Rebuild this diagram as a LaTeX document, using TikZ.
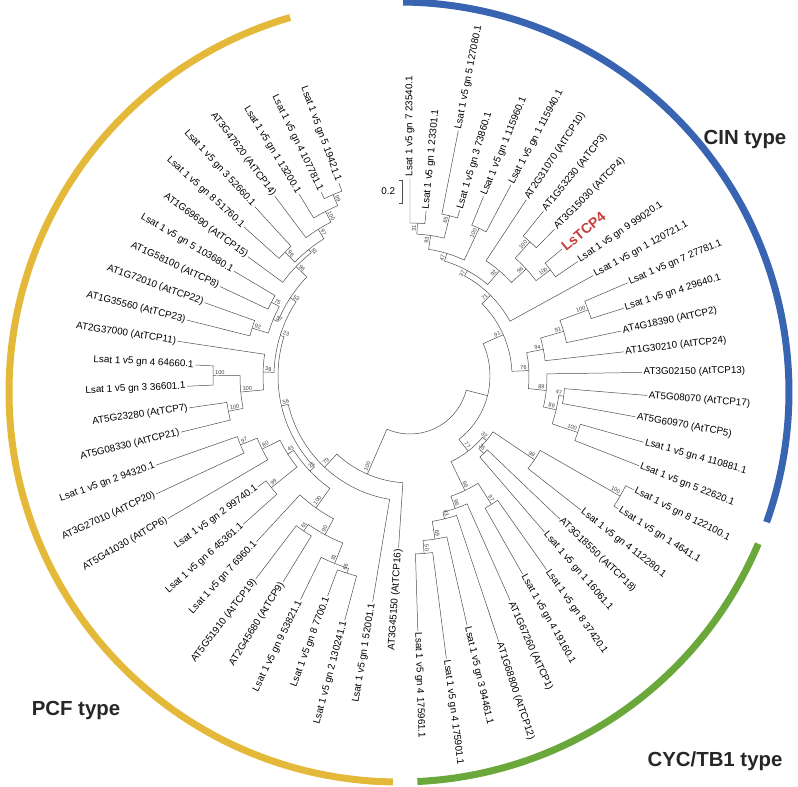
\documentclass[tikz,border=0pt]{standalone}
\usepackage{fontspec}
\setmainfont{Liberation Sans}
\usetikzlibrary{calc}
\definecolor{pcfyellow}{RGB}{228,184,56}
\definecolor{cinblue}{RGB}{56,100,178}
\definecolor{cycgreen}{RGB}{106,168,60}
\definecolor{lsred}{RGB}{198,62,58}

% leaf: [style]{name}{index}{tip radius}{text}
\newcommand\leafat[5][]{%
  \pgfmathsetmacro\la{90-(#3-1)*5.57}%
  \expandafter\xdef\csname lfA#2\endcsname{\la}%
  \coordinate (#2) at (\la:#4);%
  \pgfmathsetmacro\lc{cos(\la)}%
  \ifdim\lc pt<-0.001pt
    \pgfmathsetmacro\lr{\la+180}%
    \node[leaf, #1, anchor=east, rotate=\lr] (#2t) at (#2) {#5};%
  \else
    \node[leaf, #1, anchor=west, rotate=\la] (#2t) at (#2) {#5};%
  \fi}

% clade: {name}{radius}{child 1}{child 2}{bootstrap}
\newcommand\clade[5]{%
  \pgfmathsetmacro\ca{\csname lfA#3\endcsname}%
  \pgfmathsetmacro\cb{\csname lfA#4\endcsname}%
  \pgfmathsetmacro\cm{(\ca+\cb)/2}%
  \expandafter\xdef\csname lfA#1\endcsname{\cm}%
  \coordinate (#1) at (\cm:#2);%
  \draw[branch] (#3) -- (\ca:#2) arc[start angle=\ca, end angle=\cb, radius=#2] -- (#4);%
  \if\relax\detokenize{#5}\relax\else
    \pgfmathsetmacro\bc{cos(\cm)}%
    \pgfmathsetmacro\bq{#2-1}%
    \ifdim\bc pt<-0.001pt
      \pgfmathsetmacro\br{\cm+180}%
      \node[boot, rotate=\br, anchor=south west] (#1b) at (\cm:\bq) {#5};%
    \else
      \node[boot, rotate=\cm, anchor=south east] (#1b) at (\cm:\bq) {#5};%
    \fi
  \fi}

\begin{document}
\begin{tikzpicture}[x=0.025cm, y=0.025cm,
  branch/.style={draw=black!70, line width=0.35pt},
  leaf/.style={font=\fontsize{7}{8}\selectfont, inner sep=1pt},
  lsred/.style={font=\fontsize{10}{11}\bfseries\selectfont, text=lsred},
  boot/.style={font=\fontsize{4}{4}\selectfont, text=black!75, inner sep=0.6pt},
  typearc/.style={line width=1.75mm},
  typelabel/.style={font=\fontsize{14.5}{16}\bfseries\selectfont, text=black!85}]
\useasboundingbox (0,0) rectangle (798,787);

% coloured arcs round the tree
\begin{scope}[shift={(399,395)}]
\draw[typearc, cinblue] (89.4:390) arc[start angle=89.4, end angle=-19.5, radius=390];
\draw[typearc, cycgreen] (-22.9:390) arc[start angle=-22.9, end angle=-87.3, radius=390];
\draw[typearc, pcfyellow] (-90.9:390) arc[start angle=-90.9, end angle=-253.8, radius=390];
\end{scope}

\node[typelabel] (cin) at (745,647) {CIN type};
\node[typelabel] (pcf) at (76,76) {PCF type};
\node[typelabel] (cyc) at (715,26) {CYC/TB1 type};

% scale bar
\coordinate (sb1) at (402,607);
\coordinate (sb2) at (402,584);
\draw[branch] ($(sb1)+(-3,0)$) -- (sb1) -- (sb2) -- ($(sb2)+(-3,0)$);
\node[font=\fontsize{7}{8}\selectfont, anchor=east] (sbl) at (400,596) {0.2};

\begin{scope}[shift={(410,411)}]
% leaves, clockwise from the top
\leafat{a1}{1}{198}{Lsat 1 v5 gn 7 23540.1}
\leafat{a2}{2}{166}{Lsat 1 v5 gn 1 23301.1}
\leafat{a3}{3}{250}{Lsat 1 v5 gn 5 127080.1}
\leafat{a4}{4}{173}{Lsat 1 v5 gn 3 73860.1}
\leafat{a5}{5}{194}{Lsat 1 v5 gn 1 115960.1}
\leafat{a6}{6}{216}{Lsat 1 v5 gn 1 115940.1}
\leafat{a7}{7}{211}{AT2G31070 (AtTCP10)}
\leafat{a8}{8}{212}{AT1G53230 (AtTCP3)}
\leafat{a9}{9}{206}{AT3G15030 (AtTCP4)}
\leafat[lsred]{a10}{10}{198}{LsTCP4}
\leafat{a11}{11}{203}{Lsat 1 v5 gn 9 99020.1}
\leafat{a12}{12}{209}{Lsat 1 v5 gn 1 120721.1}
\leafat{a13}{13}{237}{Lsat 1 v5 gn 7 27781.1}
\leafat{a14}{14}{224}{Lsat 1 v5 gn 4 29640.1}
\leafat{a15}{15}{216}{AT4G18390 (AtTCP2)}
\leafat{a16}{16}{215}{AT1G30210 (AtTCP24)}
\leafat{a17}{17}{232}{AT3G02150 (AtTCP13)}
\leafat{a18}{18}{238}{AT5G08070 (AtTCP17)}
\leafat{a19}{19}{229}{AT5G60970 (AtTCP5)}
\leafat{a20}{20}{243}{Lsat 1 v5 gn 4 110881.1}
\leafat{a21}{21}{246}{Lsat 1 v5 gn 5 22620.1}
\leafat{a22}{22}{251}{Lsat 1 v5 gn 8 122100.1}
\leafat{a23}{23}{247}{Lsat 1 v5 gn 1 4641.1}
\leafat{a24}{24}{217}{Lsat 1 v5 gn 4 112280.1}
\leafat{a25}{25}{207}{AT3G18550 (AtTCP18)}
\leafat{a26}{26}{206}{Lsat 1 v5 gn 1 16061.1}
\leafat{a27}{27}{237}{Lsat 1 v5 gn 8 37420.1}
\leafat{a28}{28}{228}{Lsat 1 v5 gn 4 19160.1}
\leafat{a29}{29}{246}{AT1G67260 (AtTCP1)}
\leafat{a30}{30}{280}{AT1G68800 (AtTCP12)}
\leafat{a31}{31}{256}{Lsat 1 v5 gn 3 94461.1}
\leafat{a32}{32}{285}{Lsat 1 v5 gn 4 175901.1}
\leafat{a33}{33}{255}{Lsat 1 v5 gn 4 175961.1}
\leafat{a34}{34}{172}{AT3G45150 (AtTCP16)}
\leafat{a35}{35}{229}{Lsat 1 v5 gn 1 52001.1}
\leafat{a36}{36}{253}{Lsat 1 v5 gn 2 130241.1}
\leafat{a37}{37}{235}{Lsat 1 v5 gn 8 7700.1}
\leafat{a38}{38}{249}{Lsat 1 v5 gn 9 53821.1}
\leafat{a39}{39}{242}{AT2G45680 (AtTCP9)}
\leafat{a40}{40}{255}{AT5G51910 (AtTCP19)}
\leafat{a41}{41}{226}{Lsat 1 v5 gn 7 6960.1}
\leafat{a42}{42}{223}{Lsat 1 v5 gn 6 45361.1}
\leafat{a43}{43}{188}{Lsat 1 v5 gn 2 99740.1}
\leafat{a44}{44}{281}{AT5G41030 (AtTCP6)}
\leafat{a45}{45}{280}{AT3G27010 (AtTCP20)}
\leafat{a46}{46}{269}{Lsat 1 v5 gn 2 94320.1}
\leafat{a47}{47}{236}{AT5G08330 (AtTCP21)}
\leafat{a48}{48}{223}{AT5G23280 (AtTCP7)}
\leafat{a49}{49}{223}{Lsat 1 v5 gn 3 36601.1}
\leafat{a50}{50}{215}{Lsat 1 v5 gn 4 64660.1}
\leafat{a51}{51}{235}{AT2G37000 (AtTCP11)}
\leafat{a52}{52}{230}{AT1G35560 (AtTCP23)}
\leafat{a53}{53}{218}{AT1G72010 (AtTCP22)}
\leafat{a54}{54}{210}{AT1G58100 (AtTCP8)}
\leafat{a55}{55}{205}{Lsat 1 v5 gn 5 103680.1}
\leafat{a56}{56}{201}{AT1G69690 (AtTCP15)}
\leafat{a57}{57}{223}{Lsat 1 v5 gn 8 51760.1}
\leafat{a58}{58}{230}{Lsat 1 v5 gn 3 52660.1}
\leafat{a59}{59}{225}{AT3G47620 (AtTCP14)}
\leafat{a60}{60}{213}{Lsat 1 v5 gn 1 13200.1}
\leafat{a61}{61}{204}{Lsat 1 v5 gn 4 107781.1}
\leafat{a62}{62}{206}{Lsat 1 v5 gn 5 19421.1}

% CIN clade
\clade{c31}{153}{a1}{a2}{31}
\clade{c65}{165}{a3}{a4}{65}
\clade{c93}{142}{c31}{c65}{93}
\clade{c100a}{163}{a5}{a6}{100}
\clade{c47}{128}{c93}{c100a}{47}
\clade{c100b}{180}{a8}{a9}{100}
\clade{c100c}{176}{a10}{a11}{100}
\clade{c96}{158}{c100b}{c100c}{96}
\clade{c92}{138}{a7}{c96}{92}
\clade{c37}{120}{c47}{c92}{37}
\clade{c71}{114}{c37}{a12}{71}
\clade{c100d}{190}{a13}{a14}{100}
\clade{c91b}{160}{c100d}{a15}{91}
\clade{c94}{136}{c91b}{a16}{94}
\clade{c47b}{155}{a18}{a19}{47}
\clade{c100e}{177}{a20}{a21}{100}
\clade{c89b}{150}{c47b}{c100e}{89}
\clade{c89a}{137}{a17}{c89b}{89}
\clade{c76}{119}{c94}{c89a}{76}
\clade{c91a}{102}{c71}{c76}{91}

% CYC/TB1 clade
\clade{c100f}{242}{a22}{a23}{100}
\clade{y99}{150}{c100f}{a24}{99}
\clade{y35}{107}{a25}{a26}{35}
\clade{y32}{100}{y99}{y35}{32}
\clade{y50}{178}{a32}{a33}{50}
\clade{y69}{165}{a31}{y50}{69}
\clade{y43}{147}{a30}{y69}{43}
\clade{y96}{140}{a29}{y43}{96}
\clade{y97}{152}{a27}{a28}{97}
\clade{y66}{127}{y97}{y96}{66}
\clade{y77}{95}{y32}{y66}{77}

% PCF clade
\clade{p99a}{197}{a61}{a62}{99}
\clade{p100a}{185}{a60}{p99a}{100}
\clade{p97a}{173}{a59}{p100a}{97}
\clade{p98}{176}{a57}{a58}{98}
\clade{p81a}{162}{p98}{p97a}{81}
\clade{p96}{158}{a56}{p81a}{96}
\clade{p75}{157}{a54}{a55}{75}
\clade{p92}{165}{a52}{a53}{92}
\clade{p37}{148}{p75}{p92}{37}
\clade{p53}{143}{p96}{p37}{53}
\clade{p100b}{197}{a49}{a50}{100}
\clade{p100c}{185}{a47}{a48}{100}
\clade{p100d}{170}{p100b}{p100c}{100}
\clade{p38}{147}{a51}{p100d}{38}
\clade{p23}{136}{p53}{p38}{23}
\clade{p97b}{183}{a45}{a46}{97}
\clade{p80}{165}{p97b}{a44}{80}
\clade{p99b}{178}{a42}{a43}{99}
\clade{p43}{145}{p80}{p99b}{43}
\clade{p61}{188}{a39}{a40}{61}
\clade{p66}{207}{a36}{a37}{66}
\clade{p81b}{202}{a38}{p66}{81}
\clade{p90}{180}{p61}{p81b}{90}
\clade{p100e}{162}{a41}{p90}{100}
\clade{p21}{138}{p43}{p100e}{21}
\clade{p56}{132}{p23}{p21}{56}
\clade{p79}{125}{p56}{a35}{79}
\clade{p100f}{107}{p79}{a34}{100}

% root
\clade{cyc}{80}{c91a}{y77}{}
\clade{root}{58}{cyc}{p100f}{}
\end{scope}
\end{tikzpicture}
\end{document}
